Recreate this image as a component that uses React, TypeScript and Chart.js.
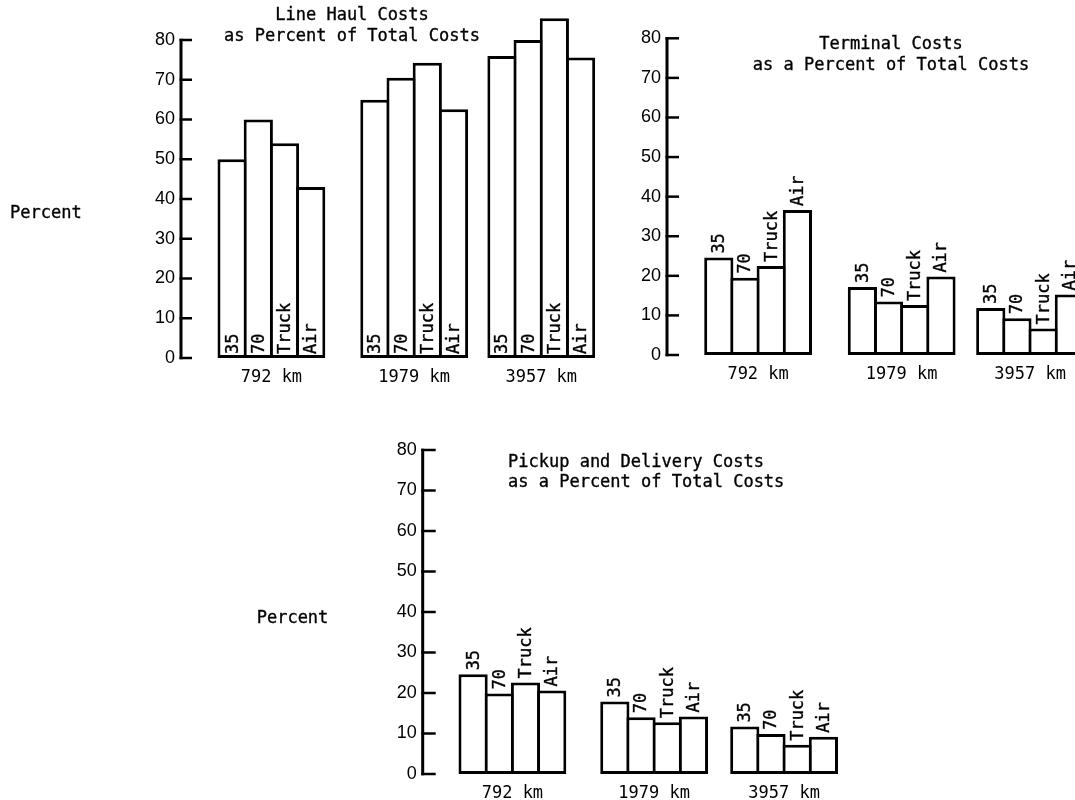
import React, { useEffect, useRef } from "react";
import { Chart, registerables } from "chart.js";

Chart.register(...registerables);

// ---------- data ----------
const CATEGORIES = ["35", "70", "Truck", "Air"];
const DISTANCES = ["792 km", "1979 km", "3957 km"];
const Y_TICKS = [0, 10, 20, 30, 40, 50, 60, 70, 80];
const Y_LABEL = "Percent";

// order: 792 km (35, 70, Truck, Air), 1979 km (...), 3957 km (...)
const LINE_HAUL = [50, 60, 54, 43, 65, 70.5, 74.3, 62.6, 76, 80, 85.5, 75.6];
const TERMINAL = [24.6, 19.5, 22.5, 36.6, 17.2, 13.5, 12.6, 19.8, 11.9, 9.3, 6.7, 15.3];
const PICKUP = [24.6, 19.9, 22.6, 20.6, 17.9, 14, 12.8, 14.2, 11.7, 9.9, 7.2, 9.2];

const LINE_HAUL_TITLE = ["Line Haul Costs", "as Percent of Total Costs"];
const TERMINAL_TITLE = ["Terminal Costs", "as a Percent of Total Costs"];
const PICKUP_TITLE = ["Pickup and Delivery Costs", "as a Percent of Total Costs"];

// ---------- layout ----------
const MONO = '"DejaVu Sans Mono", "Liberation Mono", monospace';
const SANS = '"Liberation Sans", Arial, sans-serif';

type Layout = {
  left: number; top: number; width: number; height: number;
  axisX: number; areaRight: number; zeroY: number; eightyY: number; yMax: number;
  firstBarX: number; unit: number; groupStarts: number[];
  tickLen: number; labelMode: "inside" | "above";
  title: { x: number; ys: number[]; align: CanvasTextAlign };
  percent?: { x: number; y: number };
};

const LAYOUT_LINE_HAUL: Layout = {
  left: 0, top: 0, width: 610, height: 400,
  axisX: 181, areaRight: 605, zeroY: 358, eightyY: 40, yMax: 88,
  firstBarX: 219, unit: 26.2, groupStarts: [0, 5.45, 10.3],
  tickLen: 11, labelMode: "inside",
  title: { x: 352, ys: [16, 37], align: "center" },
  percent: { x: 10, y: 214 },
};

const LAYOUT_TERMINAL: Layout = {
  left: 610, top: 0, width: 465, height: 400,
  axisX: 57, areaRight: 465, zeroY: 355, eightyY: 38.3, yMax: 88,
  firstBarX: 95.7, unit: 26.2, groupStarts: [0, 5.48, 10.38],
  tickLen: 12, labelMode: "above",
  title: { x: 281, ys: [45, 66], align: "center" },
};

const LAYOUT_PICKUP: Layout = {
  left: 230, top: 430, width: 620, height: 370,
  axisX: 192.7, areaRight: 620, zeroY: 344, eightyY: 20, yMax: 84,
  firstBarX: 230, unit: 26.2, groupStarts: [0, 5.41, 10.37],
  tickLen: 13, labelMode: "above",
  title: { x: 278, ys: [33, 53], align: "left" },
  percent: { x: 26.7, y: 189 },
};

function buildChart(canvas: HTMLCanvasElement, values: number[], title: string[], L: Layout) {
  const k = (L.zeroY - L.eightyY) / 80;
  const padTop = L.zeroY - L.yMax * k;
  const xMin = -(L.firstBarX - L.axisX) / L.unit;
  const xMax = (L.areaRight - L.firstBarX) / L.unit;
  const n = CATEGORIES.length;
  const points = values.map((v, i) => ({
    x: L.groupStarts[Math.floor(i / n)] + (i % n) + 0.5,
    y: v,
  }));
  const groupCenters = L.groupStarts.map((s) => s + n / 2);
  const BW = 3;

  const text = (ctx: CanvasRenderingContext2D, s: string, x: number, y: number) => {
    ctx.fillText(s, x, y);
    ctx.strokeText(s, x, y);
  };

  const decor = {
    id: "decor",
    afterDatasetsDraw(chart: any) {
      const ctx: CanvasRenderingContext2D = chart.ctx;
      const ys = chart.scales.y;
      const left = chart.chartArea.left;
      ctx.save();
      ctx.strokeStyle = "#000";
      ctx.fillStyle = "#000";
      // axis line
      const p0 = ys.getPixelForValue(Y_TICKS[0]);
      const p1 = ys.getPixelForValue(Y_TICKS[Y_TICKS.length - 1]);
      ctx.lineWidth = 3;
      ctx.beginPath();
      ctx.moveTo(left, p0 + 1.25);
      ctx.lineTo(left, p1 - 1.25);
      ctx.stroke();
      // inward ticks
      ctx.lineWidth = 2.5;
      Y_TICKS.forEach((v) => {
        const p = ys.getPixelForValue(v);
        ctx.beginPath();
        ctx.moveTo(left - 1.5, p);
        ctx.lineTo(left + L.tickLen, p);
        ctx.stroke();
      });
      // bar labels (rotated)
      ctx.font = `17px ${MONO}`;
      ctx.lineWidth = 0.35;
      ctx.textAlign = "left";
      ctx.textBaseline = "middle";
      const meta = chart.getDatasetMeta(0);
      meta.data.forEach((bar: any, i: number) => {
        const p = bar.getProps(["x", "y", "base"], true);
        const start = L.labelMode === "inside" ? p.base - 4 : p.y - 4;
        ctx.save();
        ctx.translate(p.x + 1, start);
        ctx.rotate(-Math.PI / 2);
        text(ctx, CATEGORIES[i % n], 0, 0);
        ctx.restore();
      });
      // title
      ctx.textAlign = L.title.align;
      title.forEach((line, j) => text(ctx, line, L.title.x, L.title.ys[j]));
      // y label
      if (L.percent) {
        ctx.textAlign = "left";
        text(ctx, Y_LABEL, L.percent.x, L.percent.y);
      }
      ctx.restore();
    },
  };

  return new Chart(canvas, {
    type: "bar",
    data: {
      datasets: [
        {
          data: points as any,
          backgroundColor: "#fff",
          borderColor: "#000",
          borderWidth: BW,
          borderSkipped: false,
          barPercentage: 1 + BW / L.unit,
          categoryPercentage: 1,
          clip: false as any,
        },
      ],
    },
    options: {
      animation: false,
      responsive: false,
      devicePixelRatio: 1,
      layout: { padding: { left: 0, top: padTop, right: L.width - L.areaRight, bottom: 0 } },
      plugins: { legend: { display: false }, tooltip: { enabled: false }, title: { display: false } },
      scales: {
        x: {
          type: "linear",
          offset: false,
          bounds: "data",
          min: xMin,
          max: xMax,
          grid: { display: false, drawTicks: false, offset: false },
          border: { display: false },
          afterBuildTicks: (s: any) => {
            s.ticks = groupCenters.map((v) => ({ value: v }));
          },
          afterFit: (s: any) => {
            s.height = L.height - L.zeroY;
            s.paddingLeft = 0;
            s.paddingRight = 0;
          },
          ticks: {
            autoSkip: false,
            maxRotation: 0,
            padding: 9,
            color: "#000",
            font: { family: MONO, size: 17 },
            callback: (_v: any, i: number) => DISTANCES[i],
          },
        },
        y: {
          type: "linear",
          min: 0,
          max: L.yMax,
          grid: { display: false, drawTicks: false },
          border: { display: false },
          afterBuildTicks: (s: any) => {
            s.ticks = Y_TICKS.map((v) => ({ value: v }));
          },
          afterFit: (s: any) => {
            s.width = L.axisX;
            s.paddingTop = 0;
            s.paddingBottom = 0;
          },
          ticks: { padding: 6, color: "#000", font: { family: SANS, size: 18 } },
        },
      },
    } as any,
    plugins: [decor],
  });
}

function Panel({ layout, values, title }: { layout: Layout; values: number[]; title: string[] }) {
  const ref = useRef<HTMLCanvasElement>(null);
  useEffect(() => {
    const chart = buildChart(ref.current as HTMLCanvasElement, values, title, layout);
    return () => chart.destroy();
  }, []);
  return (
    <canvas
      ref={ref}
      width={layout.width}
      height={layout.height}
      style={{ position: "absolute", left: layout.left, top: layout.top, width: layout.width, height: layout.height }}
    />
  );
}

export default function App() {
  return (
    <div style={{ position: "fixed", left: 0, top: 0, width: 1075, height: 800, background: "#fff", overflow: "hidden" }}>
      <Panel layout={LAYOUT_LINE_HAUL} values={LINE_HAUL} title={LINE_HAUL_TITLE} />
      <Panel layout={LAYOUT_TERMINAL} values={TERMINAL} title={TERMINAL_TITLE} />
      <Panel layout={LAYOUT_PICKUP} values={PICKUP} title={PICKUP_TITLE} />
    </div>
  );
}
